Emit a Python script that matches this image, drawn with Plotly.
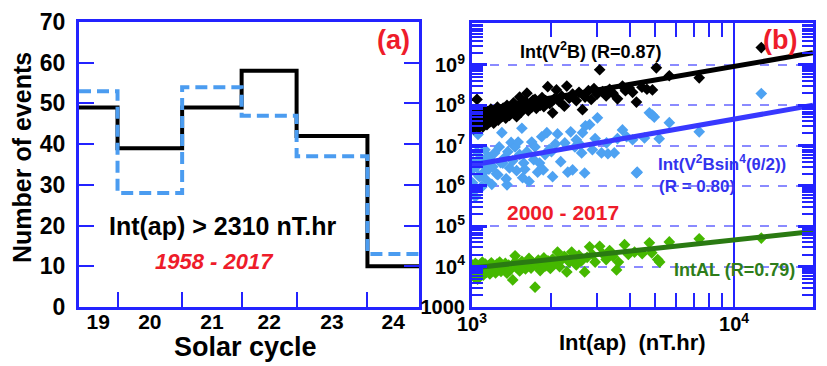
import plotly.graph_objects as go
from plotly.subplots import make_subplots

# ---- panel (a): events per solar cycle ----
cycle_labels = ["19", "20", "21", "22", "23", "24"]
cycle_edges = [1958, 1964.8, 1976.2, 1986.7, 1996.4, 2008.9, 2018]
events_black = [49, 39, 49, 58, 42, 10]
events_blue = [53, 28, 54, 47, 37, 13]

# ---- panel (b): integrated quantities vs Int(ap) ----
v2b_x = [1000, 1005, 1010, 1015, 1020, 1030, 1035, 1040, 1045, 1050, 1060, 1065, 1070, 1080, 1090,
         1095, 1100, 1110, 1120, 1130, 1140, 1150, 1160, 1170, 1180, 1190, 1200, 1210, 1220, 1235,
         1250, 1260, 1275, 1290, 1300, 1315, 1330, 1345, 1360, 1375, 1390, 1405, 1420, 1440, 1460,
         1480, 1500, 1520, 1540, 1560, 1580, 1600, 1620, 1640, 1660, 1690, 1710, 1740, 1760, 1790,
         1820, 1850, 1880, 1910, 1945, 1980, 2030, 2060, 2100, 2150, 2200, 2250, 2300, 2350, 2420,
         2500, 2560, 2640, 2700, 2780, 2850, 2920, 3000, 3070, 3150, 3250, 3350, 3450, 3590, 3750,
         3850, 3980, 4100, 4240, 4450, 4650, 4880, 5050, 5660, 7360, 12700]
v2b_y = [4.5e7, 3.2e7, 6.0e7, 2.6e7, 5.0e7, 3.8e7, 7.0e7, 4.2e7, 1.4e8, 3.0e7, 5.5e7, 2.8e7, 4.0e7, 6.5e7, 3.5e7,
         4.8e7, 2.9e7, 5.8e7, 4.0e7, 7.5e7, 3.3e7, 5.0e7, 6.2e7, 3.9e7, 8.0e7, 4.6e7, 5.5e7, 3.6e7, 6.8e7, 5.0e7,
         9.0e7, 4.3e7, 6.0e7, 7.2e7, 5.2e7, 8.5e7, 6.4e7, 4.8e7, 1.0e8, 7.0e7, 5.6e7, 8.8e7, 6.6e7, 1.15e8, 7.8e7,
         5.2e7, 9.5e7, 1.6e8, 6.8e7, 1.05e8, 8.2e7, 1.25e8, 2.0e8, 7.4e7, 1.1e8, 9.0e7, 1.35e8, 1.4e8, 8.4e7, 1.2e8,
         1.0e8, 1.55e8, 9.2e7, 1.3e8, 2.9e8, 1.1e8, 6.5e7, 1.45e8, 2.4e8, 1.25e8, 1.7e8, 9.5e7, 3.0e8, 1.5e8, 1.9e8,
         1.3e8, 2.1e8, 7.8e7, 1.6e8, 2.3e8, 1.4e8, 2.6e8, 1.9e8, 7.6e8, 2.2e8, 1.7e8, 2.5e8, 2.0e8, 1.45e8, 3.0e8,
         2.3e8, 2.7e8, 2.1e8, 1.2e8, 2.8e8, 2.5e8, 2.4e8, 8.5e8, 5.4e8, 4.8e8, 2.7e9]

sin4_x = [1000, 1005, 1010, 1020, 1030, 1040, 1045, 1054, 1060, 1070, 1075, 1085, 1090, 1100, 1110,
          1120, 1125, 1135, 1150, 1160, 1175, 1190, 1200, 1220, 1240, 1255, 1270, 1285, 1300, 1310,
          1330, 1350, 1360, 1370, 1390, 1410, 1430, 1460, 1480, 1500, 1520, 1550, 1560, 1575, 1590,
          1620, 1650, 1690, 1720, 1740, 1780, 1810, 1845, 1870, 1900, 1930, 1970, 2010, 2030, 2080,
          2120, 2180, 2260, 2320, 2380, 2420, 2470, 2500, 2570, 2620, 2640, 2690, 2710, 2810, 2880,
          2950, 3010, 3120, 3260, 3300, 3490, 3590, 3750, 3890, 4100, 4240, 4270, 4550, 4750, 4880,
          4960, 5180, 5660, 7360, 12700]
sin4_y = [2.5e6, 1.2e6, 4.0e6, 8.0e5, 5.4e5, 3.0e6, 7.0e6, 1.9e7, 1.8e6, 1.7e6, 5.0e6, 9.5e5, 9.5e5, 3.5e6, 2.2e6,
          7.9e6, 3.7e6, 1.4e6, 5.5e6, 2.6e6, 4.5e6, 1.1e6, 3.0e6, 6.6e6, 2.0e6, 1.9e6, 9.3e6, 3.8e6, 2.1e7, 3.7e6,
          5.0e6, 1.5e6, 1.07e6, 7.1e6, 2.8e6, 1.2e7, 4.2e6, 9.3e6, 2.4e6, 1.23e7, 6.0e6, 2.7e7, 1.6e6, 3.7e6, 2.6e6,
          7.1e6, 1.3e6, 1.23e7, 4.5e6, 9.3e6, 2.2e6, 3.7e6, 1.66e7, 2.5e6, 6.0e6, 2.1e7, 8.0e6, 7.1e6, 1.7e6, 1.1e7,
          1.95e7, 4.0e6, 1.17e7, 2.2e6, 2.2e7, 2.5e6, 9.3e6, 1.4e7, 1.1e7, 6.6e6, 2.1e7, 2.1e6, 3.1e7, 3.3e7, 7.9e6,
          1.5e7, 4.9e7, 6.6e6, 1.17e7, 6.3e6, 6.6e6, 1.5e7, 2.45e7, 1.66e7, 1.4e7, 2.1e6, 2.2e6, 1.55e7, 6.5e7, 5.7e7,
          5.1e7, 1.48e7, 3.7e7, 2.2e7, 1.95e8]

al_x = [1000, 1005, 1010, 1015, 1020, 1030, 1035, 1045, 1050, 1055, 1065, 1075, 1085, 1095, 1105,
        1115, 1125, 1135, 1145, 1160, 1170, 1185, 1200, 1215, 1230, 1245, 1260, 1275, 1290, 1305,
        1320, 1340, 1360, 1380, 1400, 1430, 1450, 1460, 1480, 1500, 1520, 1550, 1570, 1600, 1620,
        1650, 1680, 1700, 1740, 1760, 1790, 1820, 1850, 1880, 1910, 1950, 1990, 2030, 2070, 2120,
        2160, 2200, 2250, 2300, 2350, 2400, 2450, 2500, 2560, 2620, 2690, 2750, 2810, 2880, 2950,
        3070, 3150, 3250, 3350, 3450, 3560, 3620, 3820, 3950, 4170, 4460, 4750, 4850, 5110, 5200,
        5660, 7360, 12700]
al_y = [8.0e3, 1.1e4, 6.5e3, 9.5e3, 5.5e3, 1.2e4, 7.5e3, 1.1e4, 4.9e3, 8.5e3, 6.8e3, 1.0e4, 7.8e3, 1.3e4, 6.2e3,
        9.0e3, 1.15e4, 7.2e3, 8.8e3, 1.05e4, 6.6e3, 1.25e4, 8.2e3, 9.8e3, 7.0e3, 1.15e4, 8.6e3, 1.3e4, 7.6e3, 1.0e4,
        9.0e3, 1.2e4, 6.9e3, 1.1e4, 8.4e3, 4.7e3, 1.25e4, 1.86e4, 9.6e3, 1.15e4, 7.8e3, 1.35e4, 1.05e4, 8.8e3, 1.2e4,
        1.6e4, 9.2e3, 1.3e4, 3.1e3, 1.1e4, 1.45e4, 8.0e3, 1.25e4, 1.65e4, 1.05e4, 1.4e4, 9.0e3, 1.55e4, 1.2e4, 2.3e4,
        1.0e4, 1.5e4, 1.8e4, 7.4e3, 1.3e4, 2.3e4, 1.6e4, 1.1e4, 1.9e4, 1.4e4, 7.4e3, 1.7e4, 3.1e4, 2.0e4, 1.3e4,
        3.2e4, 2.1e4, 1.5e4, 2.5e4, 1.8e4, 8.3e3, 1.3e4, 3.5e4, 2.0e4, 2.3e4, 2.1e4, 3.9e4, 2.2e4, 1.5e4, 1.3e4,
        4.1e4, 4.9e4, 5.1e4]

# regression lines (end points)
fit_x = [1000, 20000]
fit_v2b = [7.0e7, 2.0e9]
fit_sin4 = [3.3e6, 1.0e8]
fit_al = [9.3e3, 7.4e4]

y_decades = [1e3, 1e4, 1e5, 1e6, 1e7, 1e8, 1e9]
y_decade_text = ["1000", "10<sup>4</sup>", "10<sup>5</sup>", "10<sup>6</sup>",
                 "10<sup>7</sup>", "10<sup>8</sup>", "10<sup>9</sup>"]
x_decades = [1e3, 1e4]
x_decade_text = ["10<sup>3</sup>", "10<sup>4</sup>"]

FONT = "Liberation Sans, Arial, sans-serif"
AXBLUE = "#2323ff"
RED = "#ee1c2a"
W, H = 827, 366

fig = make_subplots(rows=1, cols=2)

step_x = cycle_edges
fig.add_trace(go.Scatter(x=step_x, y=events_black + [events_black[-1]], mode="lines",
                         line=dict(color="black", width=4, shape="hv"), showlegend=False), 1, 1)
fig.add_trace(go.Scatter(x=step_x, y=events_blue + [events_blue[-1]], mode="lines",
                         line=dict(color="#4b9cf0", width=4, shape="hv", dash="12px,6px"),
                         showlegend=False), 1, 1)

mk = dict(symbol="diamond", size=9, line=dict(width=0))
fig.add_trace(go.Scatter(x=al_x, y=al_y, mode="markers", marker=dict(color="#45b800", **mk),
                         showlegend=False), 1, 2)
fig.add_trace(go.Scatter(x=sin4_x, y=sin4_y, mode="markers", marker=dict(color="#4ea2f2", **mk),
                         showlegend=False), 1, 2)
fig.add_trace(go.Scatter(x=v2b_x, y=v2b_y, mode="markers", marker=dict(color="black", **mk),
                         showlegend=False), 1, 2)
fig.add_trace(go.Scatter(x=fit_x, y=fit_v2b, mode="lines", line=dict(color="black", width=5),
                         showlegend=False), 1, 2)
fig.add_trace(go.Scatter(x=fit_x, y=fit_sin4, mode="lines", line=dict(color="#3838ff", width=5),
                         showlegend=False), 1, 2)
fig.add_trace(go.Scatter(x=fit_x, y=fit_al, mode="lines", line=dict(color="#2a7a12", width=5),
                         showlegend=False), 1, 2)

label_pos = [(a + b) / 2 for a, b in zip(cycle_edges[:-1], cycle_edges[1:])]

fig.update_layout(
    width=W, height=H, margin=dict(l=0, r=0, t=0, b=0),
    paper_bgcolor="white", plot_bgcolor="white",
    font=dict(family=FONT, color="black"),
    xaxis=dict(domain=[79 / W, 419 / W], range=[cycle_edges[0], cycle_edges[-1]],
               tickvals=label_pos, ticktext=cycle_labels, ticks="", automargin=False,
               tickfont=dict(size=21, weight="bold"), ticklabelstandoff=-6,
               minor=dict(tickvals=cycle_edges[1:-1], ticks="inside", ticklen=15,
                          tickcolor=AXBLUE, tickwidth=2),
               showline=True, linecolor=AXBLUE, linewidth=3, mirror=True,
               showgrid=False, zeroline=False),
    yaxis=dict(domain=[1 - 307 / H, 1 - 22 / H], range=[0, 70], dtick=10, automargin=False,
               ticks="inside", ticklen=15, tickcolor=AXBLUE, tickwidth=2,
               tickfont=dict(size=23, weight="bold"), ticklabelstandoff=6,
               showline=True, linecolor=AXBLUE, linewidth=3, mirror="ticks",
               showgrid=False, zeroline=False),
    xaxis2=dict(domain=[472 / W, 813 / W], type="log", range=[3, 4.301], automargin=False,
                tickvals=x_decades, ticktext=x_decade_text, ticks="inside", ticklen=15,
                tickcolor=AXBLUE, tickwidth=2, tickfont=dict(size=20, weight="bold"),
                ticklabelstandoff=-3,
                minor=dict(ticks="inside", ticklen=14, tickcolor=AXBLUE, tickwidth=2,
                           tickvals=[2000, 3000, 4000, 5000, 6000, 7000, 8000, 9000, 20000]),
                showline=True, linecolor=AXBLUE, linewidth=3, mirror="ticks",
                showgrid=True, gridcolor=AXBLUE, gridwidth=1.5, zeroline=False),
    yaxis2=dict(domain=[1 - 307 / H, 1 - 23 / H], type="log", range=[3, 10.04], automargin=False,
                tickvals=y_decades, ticktext=y_decade_text, ticks="inside", ticklen=15,
                tickcolor=AXBLUE, tickwidth=2.5, tickfont=dict(size=20, weight="bold"),
                ticklabelstandoff=0,
                minor=dict(ticks="inside", ticklen=11, tickcolor=AXBLUE, tickwidth=2, dtick="D1"),
                showline=True, linecolor=AXBLUE, linewidth=3, mirror="ticks",
                showgrid=True, gridcolor="#8a8aff", gridwidth=1.5, griddash="dash", zeroline=False),
)


def ann(text, px, py, size, color="black", italic=False, angle=0):
    fig.add_annotation(text=text, x=px / W, y=1 - py / H, xref="paper", yref="paper",
                       showarrow=False, textangle=angle, xanchor="center", yanchor="middle",
                       font=dict(size=size, color=color, family=FONT, weight="bold",
                                 style="italic" if italic else "normal"))


ann("(a)", 393, 40, 27, RED)
ann("Int(ap) &gt; 2310 nT.hr", 222, 226, 25)
ann("1958 - 2017", 214, 261, 22, RED, italic=True)
ann("Number of events", 22, 158, 25, angle=-90)
ann("Solar cycle", 245, 347, 27)

ann("(b)", 780, 40, 27, RED)
ann("Int(V<sup>2</sup>B) (R=0.87)", 591, 50, 18)
ann("Int(V<sup>2</sup>Bsin<sup>4</sup>(θ/2))", 722, 163, 17, "#3333ee")
ann("(R = 0.80)", 697, 186, 17, "#3333ee")
ann("2000 - 2017", 563, 212, 21, RED)
ann("IntAL (R=0.79)", 734, 270, 18, "#2e7d1a")
ann("Int(ap)  (nT.hr)", 632, 342, 22)

# the page body has a default 8px margin; drop it so the figure sits at the window corner
fig.write_html("out.html", config={"displayModeBar": False},
               post_script="document.body.style.margin='0px';")
